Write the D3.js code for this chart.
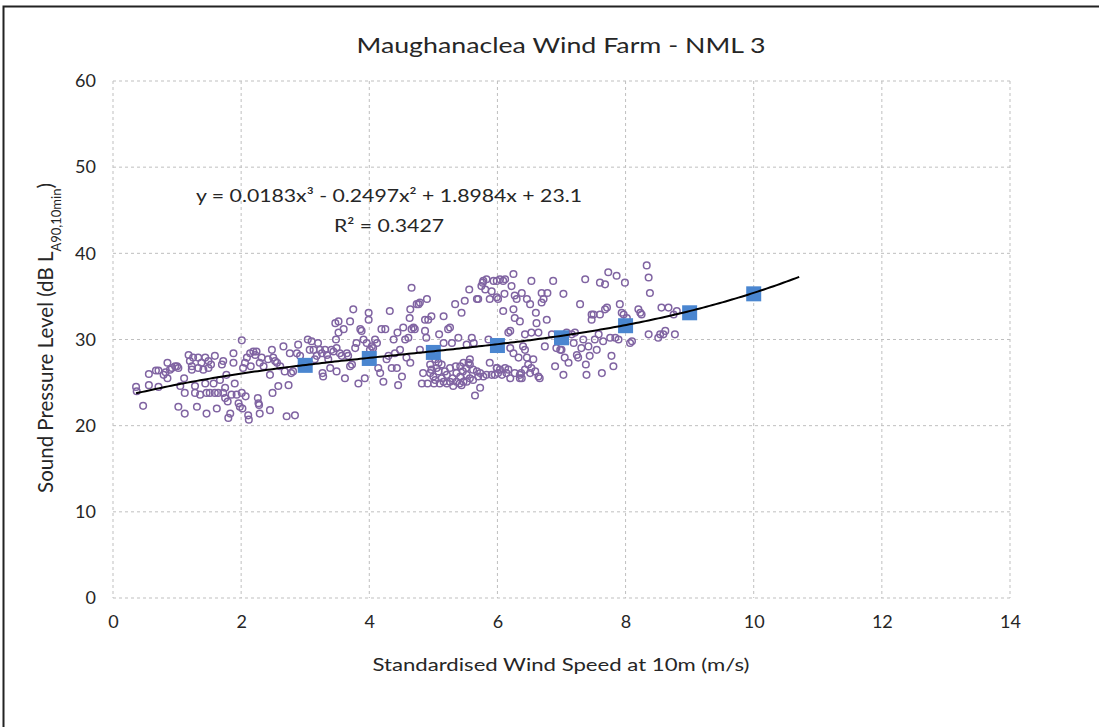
<!DOCTYPE html>
<html>
<head>
<meta charset="utf-8">
<script src="https://cdn.jsdelivr.net/npm/d3@7"></script>
<style>
  body { margin: 0; background: #fff; }
  svg text { font-family: Lato, "Open Sans", sans-serif; fill: #262626; }
</style>
</head>
<body>
<div id="chart"></div>
<script>
// Measured 10-min samples [wind speed m/s, dB LA90]
const measured = [
  [0.36,24.5],[0.37,24.0],[0.47,22.3],[0.56,26.0],[0.56,24.7],[0.67,26.4],[0.71,26.4],[0.71,24.5],
  [0.79,25.9],[0.82,26.2],[0.85,27.3],[0.85,25.5],[0.89,26.5],[0.92,26.7],[0.97,26.9],[1.0,26.9],
  [1.02,26.7],[1.05,24.6],[1.02,22.2],[1.11,25.5],[1.12,23.8],[1.12,21.4],[1.18,28.2],[1.20,27.5],
  [1.23,26.9],[1.23,26.5],[1.25,27.9],[1.28,24.6],[1.28,23.8],[1.31,22.2],[1.33,27.9],[1.33,26.7],
  [1.36,23.6],[1.38,27.3],[1.41,26.5],[1.44,27.9],[1.44,24.9],[1.46,21.4],[1.46,23.8],[1.49,26.7],
  [1.49,27.5],[1.51,23.8],[1.53,27.1],[1.57,24.9],[1.59,28.1],[1.59,23.8],[1.62,22.0],[1.64,23.8],
  [1.67,25.3],[1.70,27.1],[1.72,27.5],[1.72,23.8],[1.75,24.4],[1.75,23.2],[1.77,25.9],[1.79,22.8],
  [1.80,20.9],[1.83,21.4],[1.85,23.6],[1.88,28.4],[1.88,27.3],[1.90,24.9],[1.93,23.6],[1.96,22.6],
  [1.98,22.2],[2.01,29.9],[2.01,23.8],[2.02,22.0],[2.03,26.7],[2.06,27.3],[2.07,23.4],[2.09,27.9],
  [2.11,21.2],[2.12,20.7],[2.14,28.4],[2.15,26.9],[2.19,28.6],[2.22,28.2],[2.24,28.6],[2.26,23.2],
  [2.27,22.6],[2.28,22.4],[2.29,27.3],[2.29,21.4],[2.32,27.9],[2.35,26.9],[2.42,27.7],[2.45,21.8],
  [2.45,25.9],[2.48,28.8],[2.49,23.8],[2.50,27.9],[2.53,27.5],[2.56,27.3],[2.58,24.6],[2.61,26.9],
  [2.66,29.2],[2.68,26.3],[2.74,24.7],[2.71,21.1],[2.76,28.4],[2.78,26.1],[2.81,26.3],[2.84,21.2],
  [2.87,28.4],[2.89,29.4],[2.92,28.1],[2.94,26.9],[3.04,30.0],[3.07,28.8],
  [3.10,29.8],[3.13,28.8],[3.15,27.7],[3.18,28.1],[3.20,29.6],[3.23,28.8],[3.26,28.4],[3.27,26.1],
  [3.28,25.7],[3.31,28.8],[3.34,28.2],[3.36,27.7],[3.39,26.7],[3.41,28.8],[3.44,28.6],[3.47,31.9],
  [3.48,30.0],[3.49,29.0],[3.49,26.3],[3.52,32.1],[3.52,30.8],[3.54,28.4],[3.57,28.1],[3.60,31.2],
  [3.62,25.5],[3.65,28.4],[3.67,28.1],[3.70,32.1],[3.70,26.9],[3.73,27.1],[3.75,33.5],[3.78,29.0],
  [3.80,29.6],[3.83,24.9],[3.86,31.2],[3.88,31.0],[3.91,30.0],[3.93,25.5],[3.96,29.6],[3.99,33.1],
  [3.99,32.3],[4.01,28.8],[4.04,29.2],[4.06,29.0],[4.09,30.0],[4.12,29.6],[4.14,26.7],[4.17,26.1],
  [4.19,31.2],[4.22,25.1],[4.25,31.2],[4.27,27.7],[4.30,28.1],[4.32,33.3],[4.35,26.7],[4.38,30.0],
  [4.40,28.4],[4.43,26.7],[4.44,30.8],[4.45,24.7],[4.48,28.8],[4.51,25.7],[4.53,31.4],[4.56,30.0],
  [4.58,27.9],[4.61,30.2],[4.63,32.5],[4.64,33.5],[4.64,27.3],[4.66,36.0],[4.66,31.2],[4.69,31.4],
  [4.71,31.2],[4.74,34.1],[4.77,34.1],[4.79,34.3],[4.79,28.8],[4.82,24.9],[4.84,26.1],[4.87,31.0],
  [4.87,32.3],[4.89,30.2],[4.90,34.7],[4.91,24.9],[4.92,32.3],[4.95,26.1],[4.97,32.7],[5.00,25.7],
  [5.01,24.9],[5.03,27.7],[5.05,26.7],[5.08,26.3],[5.09,30.6],[5.10,24.9],[5.13,25.5],[5.16,32.7],
  [5.16,29.6],[5.18,26.3],[5.21,24.9],[5.23,31.2],[5.26,31.4],[5.29,29.6],[5.30,25.5],[5.31,24.6],
  [5.34,34.1],[5.35,26.9],[5.36,25.1],[5.39,30.2],[5.41,24.9],[5.42,25.7],[5.44,33.1],[5.46,26.3],
  [5.47,25.1],[5.49,34.5],[5.51,26.7],[5.52,29.4],[5.55,27.3],[5.56,35.8],[5.57,25.5],[5.60,30.2],
  [5.62,26.5],[5.63,29.6],[5.65,23.5],[5.68,34.7],[5.70,34.7],[5.70,25.7],[5.73,24.4],[5.75,36.2],
  [5.77,36.6],[5.78,36.8],[5.81,35.8],[5.83,37.0],[5.86,30.0],[5.88,34.7],[5.91,35.6],[5.91,25.9],
  [5.94,36.8],[5.96,25.9],[5.99,34.9],[5.99,26.7],
  [4.95,27.1],[4.97,26.5],[5.03,25.3],[5.13,27.1],[5.21,25.9],[5.26,26.7],[5.36,26.1],[5.42,26.9],
  [5.47,27.3],[5.52,25.9],[5.57,27.1],[5.62,25.3],[5.68,26.3],[5.73,26.1],[5.78,25.7],[5.83,25.9],
  [5.88,27.3],[5.57,27.7],[5.52,25.1],[5.44,24.7],[5.26,25.1],[5.16,25.1],[5.08,27.3],
  [5.99,36.8],[6.01,34.7],[6.04,37.0],[6.09,36.8],[6.12,37.0],[6.09,33.3],[6.11,35.3],[6.17,30.8],
  [6.20,31.0],[6.20,29.0],[6.22,36.2],[6.25,37.6],[6.25,33.5],[6.25,28.4],[6.27,35.1],[6.27,32.5],
  [6.30,34.7],[6.33,27.9],[6.35,32.1],[6.35,25.5],[6.37,26.1],[6.38,35.4],[6.40,29.2],[6.43,28.8],
  [6.43,30.6],[6.46,34.7],[6.46,27.9],[6.48,27.1],[6.51,34.1],[6.53,36.8],[6.53,30.8],[6.53,26.7],
  [6.56,27.7],[6.59,26.3],[6.60,33.1],[6.61,31.9],[6.64,25.7],[6.64,30.8],[6.66,25.5],[6.69,35.4],
  [6.69,34.3],[6.72,34.7],[6.74,29.2],[6.77,32.3],[6.78,35.4],[6.85,30.6],[6.87,36.8],[6.90,26.9],
  [6.92,29.0],[6.95,30.2],[6.98,28.8],[7.00,28.8],[7.03,35.3],[7.03,25.9],[7.05,27.9],[7.08,30.8],
  [7.11,27.3],[7.16,30.6],[7.19,29.6],[7.21,30.8],[7.24,28.2],[7.26,27.9],[7.29,34.1],[7.31,29.0],
  [7.34,30.0],[7.37,37.0],[7.38,27.1],[7.39,25.9],[7.42,29.2],[7.44,28.1],[7.47,32.9],[7.47,32.3],
  [7.50,32.9],[7.52,30.0],[7.55,28.8],[7.58,30.6],[7.60,36.6],[7.60,32.9],[7.63,26.1],[7.65,29.8],
  [7.68,36.4],[7.68,33.5],[7.71,33.7],[7.73,37.8],[7.76,30.2],[7.78,28.1],[7.81,26.9],[7.84,30.2],
  [7.86,37.4],[7.89,30.0],[7.91,34.1],[7.94,33.1],[7.97,32.9],[7.99,36.6],[8.02,32.5],[8.07,29.6],
  [8.10,29.8],[8.20,33.5],[8.23,33.1],[8.25,32.9],[8.33,38.6],[8.36,37.2],[8.36,30.6],[8.38,35.4],
  [8.51,30.2],[8.54,30.6],[8.56,33.7],[8.59,30.6],[8.62,31.0],[8.67,33.7],[8.75,32.9],[8.77,30.6],
  [8.80,33.3],
  [5.99,26.7],[6.01,26.1],[6.04,26.5],[6.07,25.9],[6.12,26.7],[6.14,26.1],[6.17,26.5],[6.20,25.5],
  [6.27,26.1],[6.35,25.9],[6.38,25.5],[6.43,26.5],[6.51,26.1]
];

// Binned averages (1 m/s bins)
const binSpeeds = [3, 4, 5, 6, 7, 8, 9, 10];
const binLevels = [27.0, 27.8, 28.5, 29.3, 30.2, 31.6, 33.1, 35.3];

// Polynomial trendline as printed on the chart: a3, a2, a1, a0
const trendCoeffs = [0.0183, -0.2497, 1.8984, 23.1];
const trendRange = [0.36, 10.74];

const xTicks = [0, 2, 4, 6, 8, 10, 12, 14];
const yTicks = [0, 10, 20, 30, 40, 50, 60];

const width = 1099, height = 727;
const margin = { top: 81, right: 89, bottom: 129, left: 113 };
const innerWidth = width - margin.left - margin.right;
const innerHeight = height - margin.top - margin.bottom;

const svg = d3.select('#chart').append('svg')
  .attr('width', width)
  .attr('height', height);

// outer frame
svg.append('path')
  .attr('d', `M3.5,${height} V6.5 H${width}`)
  .attr('fill', 'none')
  .attr('stroke', '#222')
  .attr('stroke-width', 2);

const g = svg.append('g')
  .attr('transform', `translate(${margin.left},${margin.top})`);

const x = d3.scaleLinear().domain([0, 14]).range([0, innerWidth]);
const y = d3.scaleLinear().domain([0, 60]).range([innerHeight, 0]);

// gridlines
g.append('g').selectAll('line').data(xTicks).join('line')
  .attr('x1', d => x(d)).attr('x2', d => x(d))
  .attr('y1', 0).attr('y2', innerHeight)
  .attr('stroke', '#bfbfbf').attr('stroke-dasharray', '3,3');
g.append('g').selectAll('line').data(yTicks).join('line')
  .attr('x1', 0).attr('x2', innerWidth)
  .attr('y1', d => y(d)).attr('y2', d => y(d))
  .attr('stroke', '#bfbfbf').attr('stroke-dasharray', '3,3');

// axes (labels only)
const xAxis = g.append('g')
  .attr('transform', `translate(0,${innerHeight})`)
  .call(d3.axisBottom(x).tickValues(xTicks).tickSize(0).tickPadding(17));
const yAxis = g.append('g')
  .call(d3.axisLeft(y).tickValues(yTicks).tickSize(0).tickPadding(17));
[xAxis, yAxis].forEach(a => {
  a.select('.domain').remove();
  a.selectAll('text').style('font-size', '18px').style('fill', '#262626');
});

// scatter
g.append('g').selectAll('circle').data(measured).join('circle')
  .attr('cx', d => x(d[0]))
  .attr('cy', d => y(d[1]))
  .attr('r', 3.3)
  .attr('fill', 'none')
  .attr('stroke', '#8064a2')
  .attr('stroke-width', 1.5);

// binned squares
const sq = 15;
g.append('g').selectAll('rect').data(binSpeeds).join('rect')
  .attr('x', d => x(d) - sq / 2)
  .attr('y', (d, i) => y(binLevels[i]) - sq / 2)
  .attr('width', sq).attr('height', sq)
  .attr('fill', '#4a86d0');

// trendline
const poly = v => trendCoeffs.reduce((acc, c) => acc * v + c, 0);
const trendPts = d3.range(trendRange[0], trendRange[1] + 0.001, 0.05).map(v => [v, poly(v)]);
g.append('path')
  .datum(trendPts)
  .attr('fill', 'none')
  .attr('stroke', '#000')
  .attr('stroke-width', 2)
  .attr('d', d3.line().x(d => x(d[0])).y(d => y(d[1])));

// equation
svg.append('text')
  .attr('x', 389).attr('y', 202)
  .attr('text-anchor', 'middle')
  .style('font-size', '18px')
  .attr('textLength', 386).attr('lengthAdjust', 'spacingAndGlyphs')
  .text('y = 0.0183x³ - 0.2497x² + 1.8984x + 23.1');
svg.append('text')
  .attr('x', 389).attr('y', 232)
  .attr('text-anchor', 'middle')
  .style('font-size', '18px')
  .attr('textLength', 110).attr('lengthAdjust', 'spacingAndGlyphs')
  .text('R² = 0.3427');

// title
svg.append('text')
  .attr('x', 561).attr('y', 53)
  .attr('text-anchor', 'middle')
  .style('font-size', '22px')
  .attr('textLength', 409).attr('lengthAdjust', 'spacingAndGlyphs')
  .text('Maughanaclea Wind Farm - NML 3');

// x title
svg.append('text')
  .attr('x', 561).attr('y', 671)
  .attr('text-anchor', 'middle')
  .style('font-size', '18px')
  .attr('textLength', 377).attr('lengthAdjust', 'spacingAndGlyphs')
  .text('Standardised Wind Speed at 10m (m/s)');

// y title with subscript
const yt = svg.append('text')
  .attr('transform', 'translate(53,338) rotate(-90)')
  .attr('text-anchor', 'middle')
  .style('font-size', '20.5px');
yt.append('tspan').text('Sound Pressure Level (dB L');
yt.append('tspan').attr('baseline-shift', 'sub').style('font-size', '13px').text('A90,10min');
yt.append('tspan').text(')');
</script>
</body>
</html>
